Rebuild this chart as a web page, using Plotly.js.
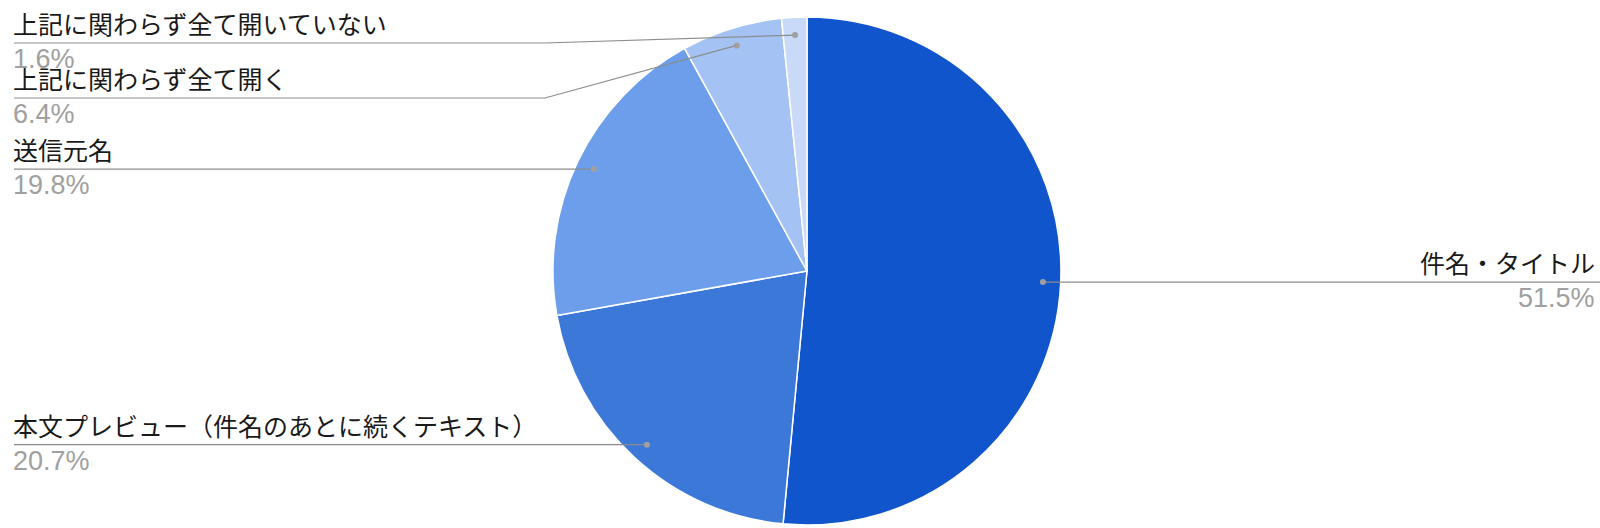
<!DOCTYPE html>
<html>
<head>
<meta charset="utf-8">
<script src="https://cdn.plot.ly/plotly-3.0.1.min.js"></script>
<style>html,body{margin:0;padding:0;background:#fff;}#chart{width:1600px;height:528px;}</style>
</head>
<body>
<div id="chart"></div>
<script>
// ---- data ----
const labels = ['件名・タイトル', '本文プレビュー（件名のあとに続くテキスト）', '送信元名', '上記に関わらず全て開く', '上記に関わらず全て開いていない'];
const values = [51.5, 20.7, 19.8, 6.4, 1.6];
const colors = ['#1155cc', '#3c78d8', '#6d9eeb', '#a4c2f4', '#c9daf8'];

// ---- layout constants ----
const W = 1600, H = 528;
const dom = {x: [0.3456, 0.6631], y: [0.0057, 0.9678]};
const cx = (dom.x[0] + dom.x[1]) / 2 * W;
const cy = (1 - (dom.y[0] + dom.y[1]) / 2) * H;
const R = Math.min((dom.x[1] - dom.x[0]) * W, (dom.y[1] - dom.y[0]) * H) / 2;
const px = x => x / W, py = y => 1 - y / H;

const total = values.reduce((a, b) => a + b, 0);
let cum = 0;
const pts = values.map((v, i) => {
  const mid = (cum + v / 2) / total * 2 * Math.PI;
  cum += v;
  return {i, x: cx + Math.sin(mid) * R * 0.93, y: cy - Math.cos(mid) * R * 0.93, pct: (v / total * 100).toFixed(1) + '%'};
});

const shapes = [], annotations = [];
const lineColor = '#8c8c8c';
function addLabel(p, lineY, side) {
  const nameFont = {family: '"Noto Sans CJK JP", sans-serif', size: 25, color: '#1a1a1a'};
  const pctFont = {family: '"Liberation Sans", Arial, sans-serif', size: 27, color: '#a0a0a0'};
  if (side === 'left') {
    const elbow = cx - R - 8;
    shapes.push({type: 'path', xref: 'paper', yref: 'paper',
      path: `M ${px(14)} ${py(lineY)} L ${px(elbow)} ${py(lineY)} L ${px(p.x)} ${py(p.y)}`,
      line: {color: lineColor, width: 1.2}});
    annotations.push({x: px(12), y: py(lineY - 1), xref: 'paper', yref: 'paper', xanchor: 'left', yanchor: 'bottom',
      text: labels[p.i], showarrow: false, font: nameFont, align: 'left', borderpad: 0});
    annotations.push({x: px(12), y: py(lineY), xref: 'paper', yref: 'paper', xanchor: 'left', yanchor: 'top',
      text: p.pct, showarrow: false, font: pctFont, align: 'left', borderpad: 0});
  } else {
    shapes.push({type: 'path', xref: 'paper', yref: 'paper',
      path: `M ${px(p.x)} ${py(p.y)} L ${px(cx + R + 8)} ${py(lineY)} L ${px(W)} ${py(lineY)}`,
      line: {color: lineColor, width: 1.2}});
    annotations.push({x: px(1596), y: py(lineY - 1), xref: 'paper', yref: 'paper', xanchor: 'right', yanchor: 'bottom',
      text: labels[p.i], showarrow: false, font: nameFont, align: 'right', borderpad: 0});
    annotations.push({x: px(1596), y: py(lineY), xref: 'paper', yref: 'paper', xanchor: 'right', yanchor: 'top',
      text: p.pct, showarrow: false, font: pctFont, align: 'right', borderpad: 0});
  }
  const r = 3;
  shapes.push({type: 'circle', xref: 'paper', yref: 'paper',
    x0: px(p.x - r), x1: px(p.x + r), y0: py(p.y + r), y1: py(p.y - r),
    fillcolor: '#a0a0a0', line: {width: 0}});
}

const minTop = 43, spacing = 55;
['left', 'right'].forEach(side => {
  const group = pts.filter(p => side === 'left' ? p.x < cx : p.x >= cx).sort((a, b) => a.y - b.y);
  let prev = -Infinity;
  group.forEach(p => {
    const lineY = Math.max(p.y, prev + spacing, minTop);
    prev = lineY;
    addLabel(p, lineY, side);
  });
});

const trace = {
  type: 'pie', labels: labels, values: values, sort: false, direction: 'clockwise', rotation: 0,
  marker: {colors: colors, line: {color: '#ffffff', width: 1.5}},
  textinfo: 'none', hoverinfo: 'label+percent', domain: dom, showlegend: false
};

Plotly.newPlot('chart', [trace], {
  width: W, height: H, margin: {l: 0, r: 0, t: 0, b: 0, pad: 0},
  paper_bgcolor: '#ffffff', showlegend: false,
  shapes: shapes, annotations: annotations
}, {displayModeBar: false, staticPlot: true});
</script>
</body>
</html>
